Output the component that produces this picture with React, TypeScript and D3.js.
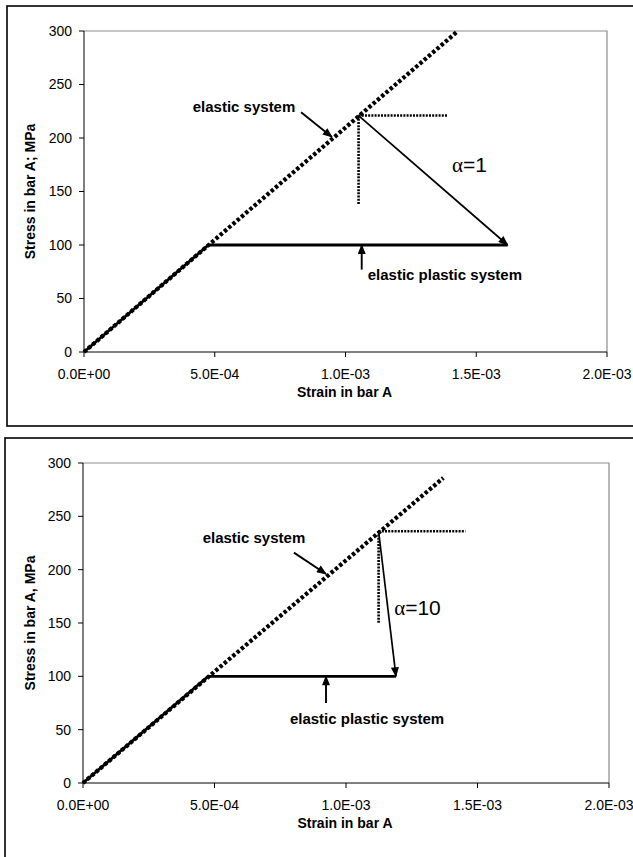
import React from "react";
import * as d3 from "d3";

// axis ticks
const xTicks = [0, 0.0005, 0.001, 0.0015, 0.002];
const xTickLabels = ["0.0E+00", "5.0E-04", "1.0E-03", "1.5E-03", "2.0E-03"];
const yTicks = [0, 50, 100, 150, 200, 250, 300];

// panel 1 (alpha = 1)
const elastic1: [number, number][] = [[0, 0], [0.00143, 300]];
const plastic1: [number, number][] = [[0, 0], [0.000476, 100], [0.00162, 100]];
const peak1: [number, number] = [0.00105, 221];
const refH1 = 0.00139; // end strain of horizontal dotted line
const refV1 = 138; // end stress of vertical dotted line
const unload1: [number, number][] = [[0.00105, 221], [0.00162, 100]];

// panel 2 (alpha = 10)
const elastic2: [number, number][] = [[0, 0], [0.00137, 286]];
const plastic2: [number, number][] = [[0, 0], [0.000476, 100], [0.00119, 100]];
const peak2: [number, number] = [0.001124, 236];
const refH2 = 0.001454;
const refV2 = 150;
const unload2: [number, number][] = [[0.001124, 236], [0.00119, 100]];

const panels = [
  {
    frame: { x: 7, y: 6, w: 640, h: 420 },
    box: { l: 84, r: 607, t: 31, b: 352 },
    yTitle: "Stress in bar A; MPa",
    elastic: elastic1, plastic: plastic1, peak: peak1, refH: refH1, refV: refV1, unload: unload1,
    alpha: "1", alphaAt: [0.001407, 175],
    elasticLabel: [0.000612, 229], elasticArrow: [[0.00083, 224], [0.000948, 201]],
    plasticLabel: [0.00138, 72], plasticArrow: [[0.001062, 77], [0.001062, 100]],
  },
  {
    frame: { x: 5, y: 438, w: 640, h: 440 },
    box: { l: 83, r: 609, t: 463, b: 783 },
    yTitle: "Stress in bar A, MPa",
    elastic: elastic2, plastic: plastic2, peak: peak2, refH: refH2, refV: refV2, unload: unload2,
    alpha: "10", alphaAt: [0.001183, 164],
    elasticLabel: [0.00065, 230], elasticArrow: [[0.000802, 216], [0.000924, 196]],
    plasticLabel: [0.00108, 60], plasticArrow: [[0.000924, 75], [0.000924, 100]],
  },
];

const font = "'Liberation Sans', Arial, sans-serif";

function Panel({ p, i }: { p: any; i: number }) {
  const x = d3.scaleLinear().domain([0, 0.002]).range([p.box.l, p.box.r]);
  const y = d3.scaleLinear().domain([0, 300]).range([p.box.b, p.box.t]);
  const line = d3.line<[number, number]>().x(d => x(d[0])).y(d => y(d[1]));
  const arrowId = `arr${i}`;
  return (
    <g>
      <rect x={p.frame.x} y={p.frame.y} width={p.frame.w} height={p.frame.h}
        fill="none" stroke="#000" strokeWidth={1.6} />
      {/* plot border */}
      <path d={`M${p.box.l},${p.box.t}H${p.box.r}V${p.box.b}`} fill="none" stroke="#8c8c8c" strokeWidth={1.2} />
      <line x1={p.box.l} x2={p.box.r} y1={p.box.b} y2={p.box.b} stroke="#000" />
      <line x1={p.box.l} x2={p.box.l} y1={p.box.t} y2={p.box.b} stroke="#000" />
      {yTicks.map(t => (
        <g key={"y" + t}>
          <line x1={p.box.l - 5} x2={p.box.l} y1={y(t)} y2={y(t)} stroke="#000" />
          <text x={p.box.l - 12} y={y(t)} dy="0.35em" textAnchor="end" fontSize={14} fontFamily={font}>{t}</text>
        </g>
      ))}
      {xTicks.map((t, k) => (
        <g key={"x" + t}>
          <line x1={x(t)} x2={x(t)} y1={p.box.b} y2={p.box.b + 5} stroke="#000" />
          <text x={x(t)} y={p.box.b + 27} textAnchor="middle" fontSize={14} fontFamily={font}>{xTickLabels[k]}</text>
        </g>
      ))}
      <text x={(p.box.l + p.box.r) / 2 - 1} y={p.box.b + 45} textAnchor="middle" fontSize={14}
        fontWeight="bold" fontFamily={font}>Strain in bar A</text>
      <text transform={`translate(35,${(p.box.t + p.box.b) / 2}) rotate(-90)`} textAnchor="middle"
        fontSize={14} fontWeight="bold" fontFamily={font}>{p.yTitle}</text>

      {/* elastic-plastic system */}
      <path d={line(p.plastic) || ""} fill="none" stroke="#000" strokeWidth={2.8} />
      {/* elastic system */}
      <path d={line(p.elastic) || ""} fill="none" stroke="#000" strokeWidth={4.2} strokeDasharray="3.4,2.2" />
      {/* reference dotted lines at peak */}
      <path d={line([p.peak, [p.refH, p.peak[1]]]) || ""} fill="none" stroke="#000" strokeWidth={2.6} strokeDasharray="2,1.2" />
      <path d={line([p.peak, [p.peak[0], p.refV]]) || ""} fill="none" stroke="#000" strokeWidth={2.6} strokeDasharray="2,1.2" />
      {/* unloading arrow */}
      <path d={line(p.unload) || ""} fill="none" stroke="#000" strokeWidth={1.7} markerEnd={`url(#${arrowId})`} />
      {/* annotation arrows */}
      <path d={line(p.elasticArrow) || ""} fill="none" stroke="#000" strokeWidth={1.9} markerEnd={`url(#${arrowId})`} />
      <path d={line(p.plasticArrow) || ""} fill="none" stroke="#000" strokeWidth={1.9} markerEnd={`url(#${arrowId})`} />

      <text x={x(p.elasticLabel[0])} y={y(p.elasticLabel[1])} dy="0.35em" textAnchor="middle"
        fontSize={15} fontWeight="bold" fontFamily={font}>elastic system</text>
      <text x={x(p.plasticLabel[0])} y={y(p.plasticLabel[1])} dy="0.35em" textAnchor="middle"
        fontSize={15} fontWeight="bold" fontFamily={font}>elastic plastic system</text>
      <text x={x(p.alphaAt[0])} y={y(p.alphaAt[1])} dy="0.35em" fontSize={21} fontFamily={font}>
        <tspan fontFamily="'Liberation Serif', serif">α</tspan>={p.alpha}
      </text>

      <defs>
        <marker id={arrowId} viewBox="0 0 10 8" refX={9} refY={4} markerWidth={11} markerHeight={8}
          markerUnits="userSpaceOnUse" orient="auto">
          <path d="M0,0L10,4L0,8Z" fill="#000" />
        </marker>
      </defs>
    </g>
  );
}

export default function App() {
  return (
    <svg width={633} height={857} style={{ position: "absolute", left: 0, top: 0, background: "#fff" }}>
      {panels.map((p, i) => <Panel key={i} p={p} i={i} />)}
    </svg>
  );
}
